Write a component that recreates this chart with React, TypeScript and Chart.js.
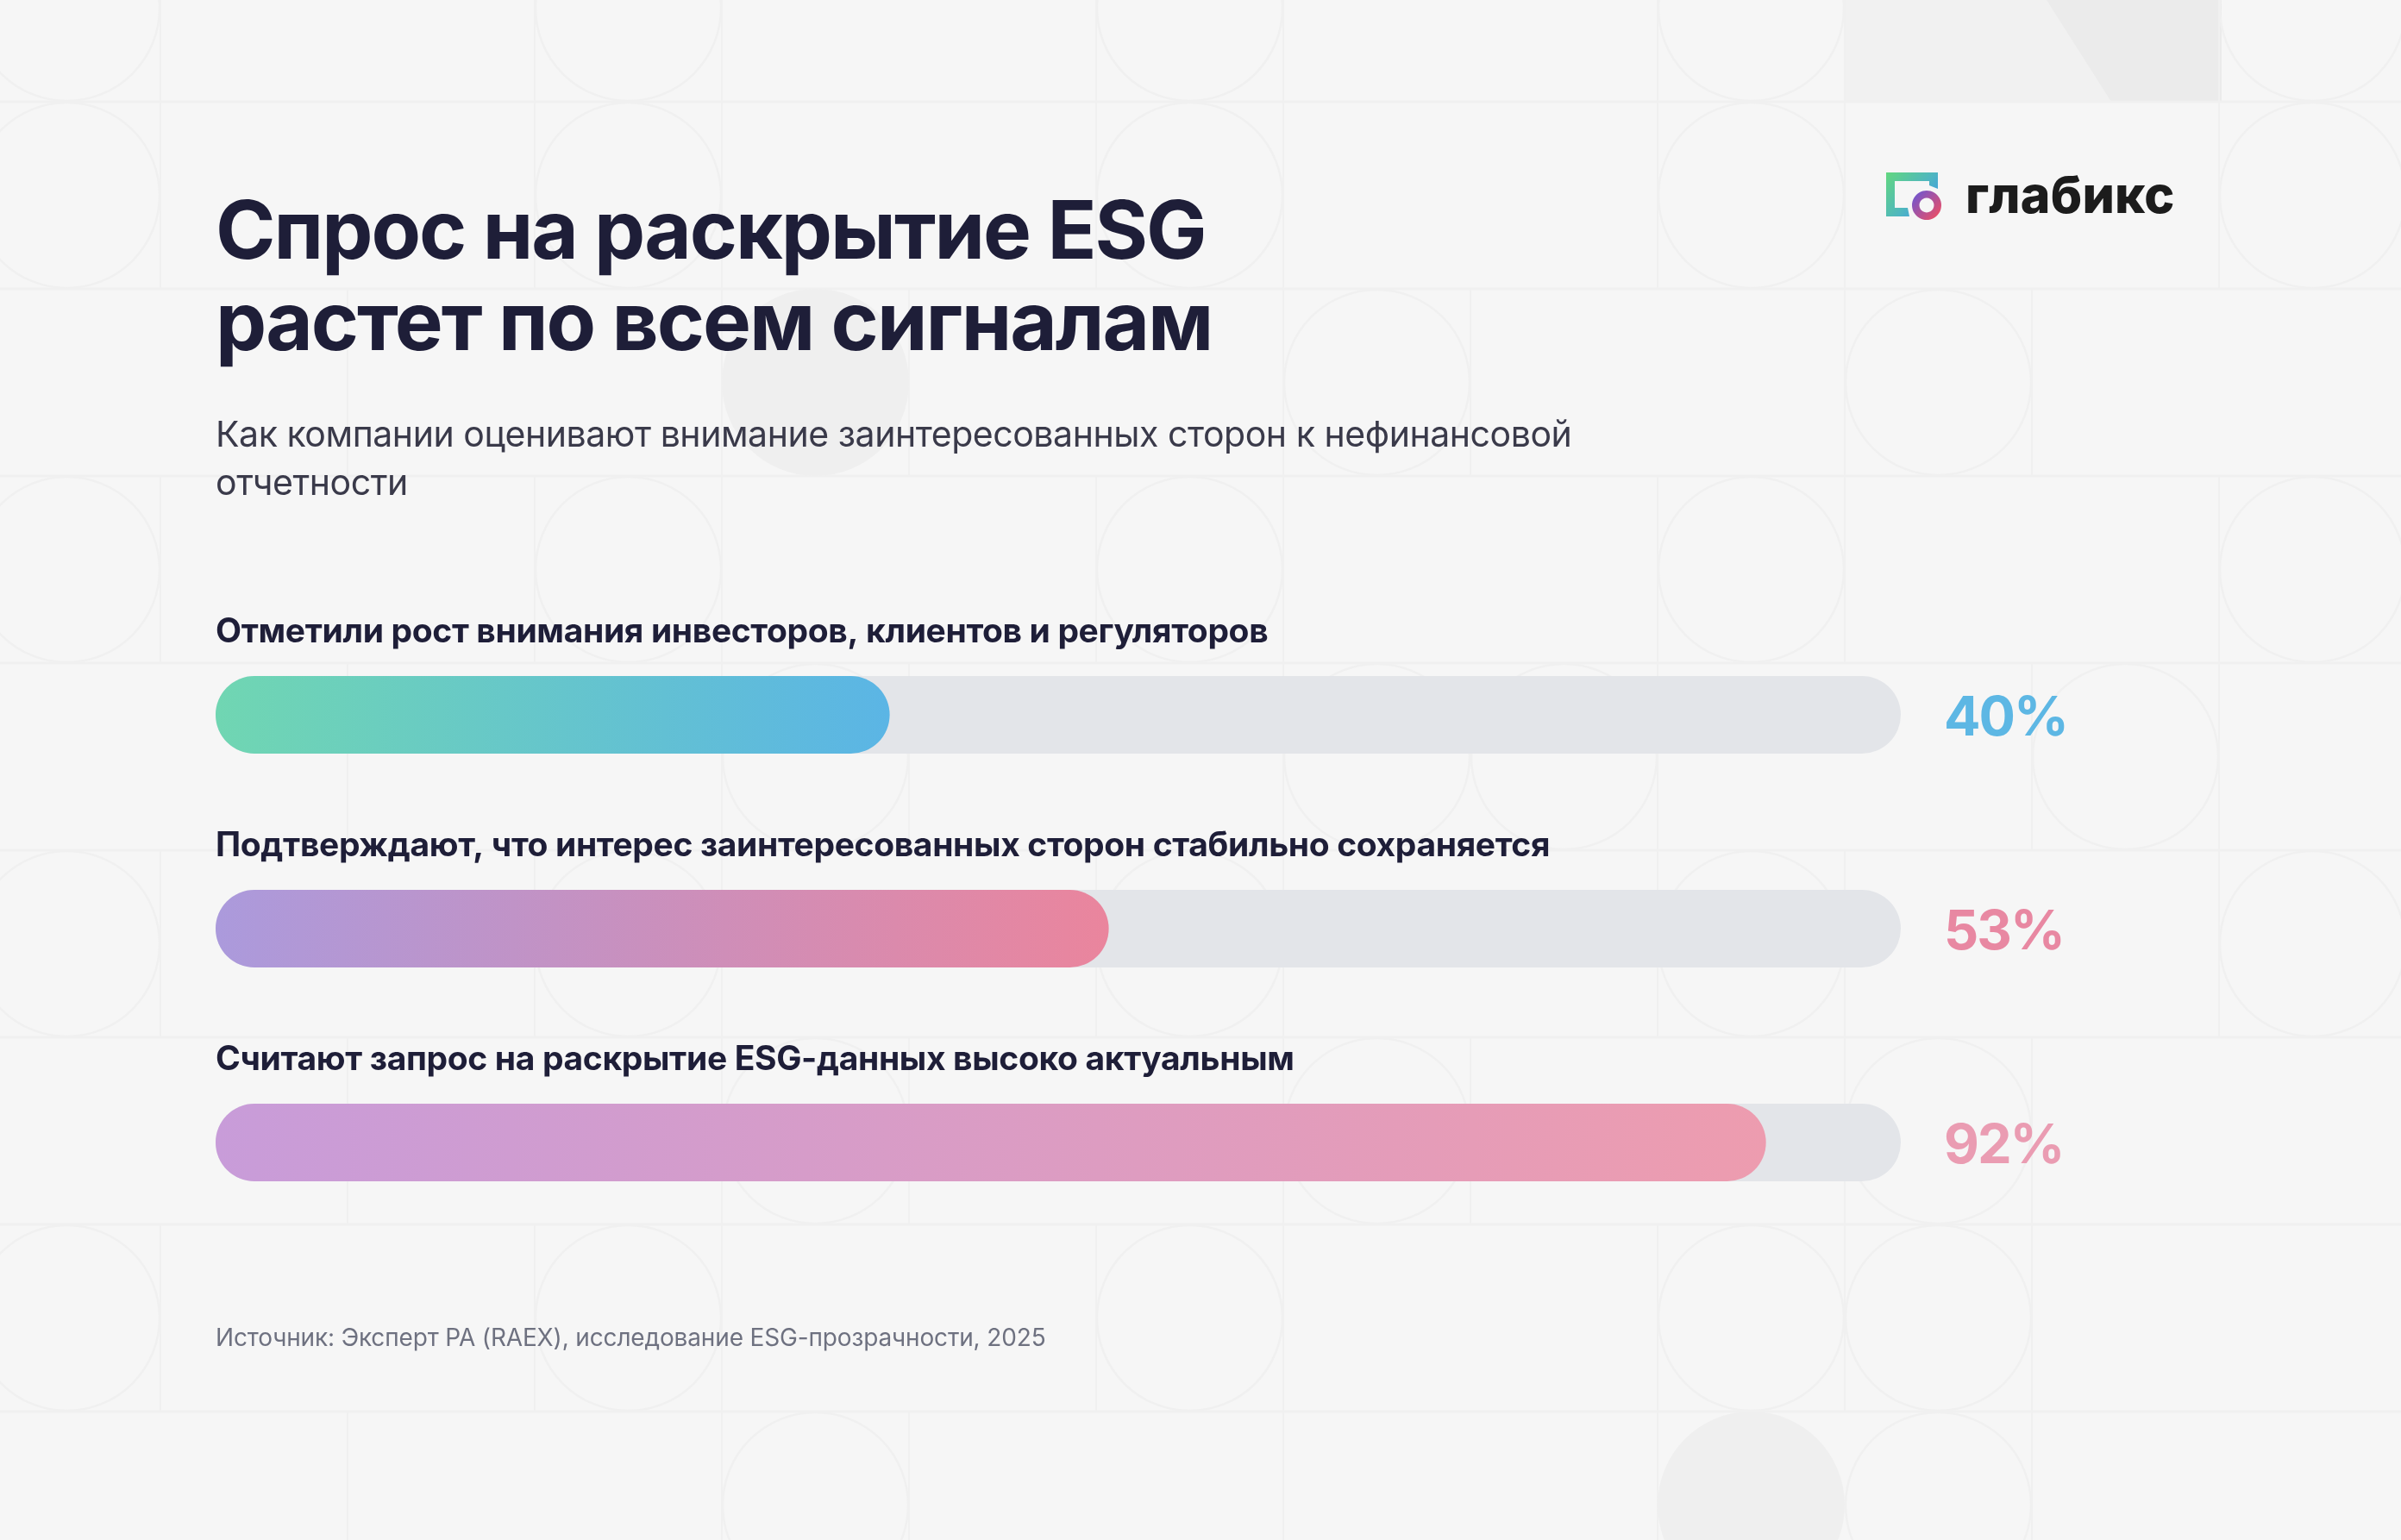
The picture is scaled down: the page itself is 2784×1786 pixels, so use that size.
import React, { useEffect, useRef } from "react";
import { Chart, registerables } from "chart.js";

Chart.register(...registerables);

const categories = [
  "Отметили рост внимания инвесторов, клиентов и регуляторов",
  "Подтверждают, что интерес заинтересованных сторон стабильно сохраняется",
  "Считают запрос на раскрытие ESG-данных высоко актуальным",
];
const values = [40, 53, 92];
const trackValues = [100, 100, 100];
const valueLabels = ["40%", "53%", "92%"];
const valueColors = ["#5db7e4", "#e888a2", "#ea9cb2"];
const gradientStarts = ["#70d6b2", "#ab9adc", "#c89cd9"];
const gradientEnds = ["#5bb5e5", "#ea859d", "#ed9caf"];

const titleLines = ["Спрос на раскрытие ESG", "растет по всем сигналам"];
const subtitleLines = [
  "Как компании оценивают внимание заинтересованных сторон к нефинансовой",
  "отчетности",
];
const sourceText = "Источник: Эксперт РА (RAEX), исследование ESG-прозрачности, 2025";
const logoText = "глабикс";

const W = 2784;
const H = 1786;
const FONT = "Inter, 'Noto Sans', sans-serif";
const BG = "#f6f6f6";
const LINE = "#f0f0f0";

// decorative background tiles: circles by [column, row]; vertical rules by row
const CELL = 217;
const X0 = -31;
const Y0 = -99;
const rowCircles = [
  [0, 3, 6, 9, 12],
  [0, 3, 6, 9, 12],
  [7, 10],
  [0, 3, 6, 9, 12],
  [4, 7, 8, 11],
  [0, 3, 6, 9, 12],
  [4, 7, 10],
  [0, 3, 6, 9, 10],
  [4, 10],
];
const rowRules = [
  [1, 3, 4, 6, 7, 9, 10, 12],
  [1, 3, 4, 6, 7, 9, 10, 12],
  [2, 4, 5, 7, 8, 10, 11],
  [1, 3, 4, 6, 7, 9, 10, 12],
  [2, 4, 5, 7, 9, 11, 12],
  [1, 3, 4, 6, 7, 9, 10, 12],
  [2, 4, 5, 7, 8, 10, 11],
  [1, 3, 4, 6, 7, 9, 10, 11],
  [2, 4, 5, 7, 9, 11],
];
const filledCircles = [
  [4, 2],
  [9, 8],
];

function Background() {
  const rowsY = rowCircles.map((_, r) => Y0 + CELL * r);
  return (
    <svg width={W} height={H} style={{ position: "absolute", left: 0, top: 0 }}>
      <rect width={W} height={H} fill={BG} />
      <rect x={2139} y={0} width={437} height={118} fill="#f1f1f1" />
      <polygon points="2373,0 2576,0 2576,118 2448,118" fill="#ebebeb" />
      {rowsY.slice(1).map((y) => (
        <rect key={y} x={0} y={y - 1.5} width={W} height={3} fill={LINE} />
      ))}
      {rowRules.map((cols, r) =>
        cols.map((c) => (
          <rect key={`${r}-${c}`} x={X0 + CELL * c - 1} y={rowsY[r]} width={2} height={CELL} fill={LINE} />
        ))
      )}
      {filledCircles.map(([c, r]) => (
        <circle key={`f${c}-${r}`} cx={X0 + CELL * c + CELL / 2} cy={Y0 + CELL * r + CELL / 2} r={CELL / 2} fill="#efefef" />
      ))}
      {rowCircles.map((cols, r) =>
        cols.map((c) => (
          <circle
            key={`c${r}-${c}`}
            cx={X0 + CELL * c + CELL / 2}
            cy={Y0 + CELL * r + CELL / 2}
            r={CELL / 2 - 1}
            fill="none"
            stroke={LINE}
            strokeWidth={2.5}
          />
        ))
      )}
    </svg>
  );
}

function Logo() {
  return (
    <svg width={360} height={100} viewBox="2180 180 360 100" style={{ position: "absolute", left: 2180, top: 180 }}>
      <defs>
        <linearGradient id="frameG" gradientUnits="userSpaceOnUse" x1="2187" y1="200" x2="2247" y2="251">
          <stop offset="0" stopColor="#62d77f" />
          <stop offset="0.55" stopColor="#4fb6c0" />
          <stop offset="1" stopColor="#3a8ff5" />
        </linearGradient>
        <linearGradient id="donutG" gradientUnits="userSpaceOnUse" x1="2220" y1="226" x2="2248" y2="252">
          <stop offset="0" stopColor="#7456cc" />
          <stop offset="1" stopColor="#ec4f66" />
        </linearGradient>
      </defs>
      <path
        d="M2187 200 H2247 V219 L2237 215 V210 H2197 V241 H2212 L2214 251 H2187 Z"
        fill="url(#frameG)"
      />
      <path
        fillRule="evenodd"
        d="M2234 221 a17 17 0 1 0 0.01 0 Z M2234 229.5 a8.5 8.5 0 1 1 -0.01 0 Z"
        fill="url(#donutG)"
      />
      <text x={2279} y={247} fontFamily={FONT} fontWeight={800} fontSize={59} fill="#1c1c1c" letterSpacing={0.2}>
        {logoText}
      </text>
    </svg>
  );
}

const textBase: React.CSSProperties = { position: "absolute", left: 250, whiteSpace: "nowrap", fontFamily: FONT };

export default function App() {
  const ref = useRef<HTMLCanvasElement>(null);

  useEffect(() => {
    const canvas = ref.current;
    if (!canvas) return;

    const gradientFill = (ctx: any) => {
      const chart = ctx.chart;
      const xs = chart.scales.x;
      const i = ctx.dataIndex;
      if (!xs || i === undefined) return gradientStarts[0];
      const x0 = xs.getPixelForValue(0);
      const x1 = xs.getPixelForValue(values[i]);
      if (!Number.isFinite(x0) || !Number.isFinite(x1)) return gradientStarts[i];
      const g = chart.ctx.createLinearGradient(x0, 0, x1, 0);
      g.addColorStop(0, gradientStarts[i]);
      g.addColorStop(1, gradientEnds[i]);
      return g;
    };

    const labelPlugin = {
      id: "rowLabels",
      afterDatasetsDraw(chart: any) {
        const c = chart.ctx;
        const ys = chart.scales.y;
        const left = chart.chartArea.left;
        const right = chart.chartArea.right;
        c.save();
        c.textBaseline = "alphabetic";
        c.textAlign = "left";
        categories.forEach((label, i) => {
          const cy = ys.getPixelForValue(i);
          c.font = `700 39px ${FONT}`;
          c.letterSpacing = "-0.35px";
          c.fillStyle = "#1e1e38";
          c.fillText(label, left, cy - 84);
          c.font = `700 63px ${FONT}`;
          c.letterSpacing = "-2px";
          c.fillStyle = valueColors[i];
          c.fillText(valueLabels[i], right + 50, cy + 24);
        });
        c.restore();
      },
    };

    const chart = new Chart(canvas, {
      type: "bar",
      data: {
        labels: categories,
        datasets: [
          {
            label: "Доля",
            data: values,
            backgroundColor: gradientFill,
            borderRadius: 45,
            borderSkipped: false,
            barThickness: 90,
            inflateAmount: 0,
            grouped: false,
            order: 1,
          } as any,
          {
            label: "Шкала",
            data: trackValues,
            backgroundColor: "#e3e5e9",
            borderRadius: 45,
            borderSkipped: false,
            barThickness: 90,
            inflateAmount: 0,
            grouped: false,
            order: 2,
          } as any,
        ],
      },
      options: {
        indexAxis: "y",
        animation: false,
        responsive: false,
        devicePixelRatio: 1,
        layout: { padding: { left: 250, right: W - 2204, top: 705, bottom: H - 1449 } },
        scales: {
          x: { display: false, min: 0, max: 100 },
          y: { display: false },
        },
        plugins: { legend: { display: false }, title: { display: false }, tooltip: { enabled: false } },
      },
      plugins: [labelPlugin],
    });
    return () => chart.destroy();
  }, []);

  return (
    <div style={{ position: "absolute", left: 0, top: 0, width: W, height: H, overflow: "hidden", background: BG }}>
      <Background />
      <canvas ref={ref} width={W} height={H} style={{ position: "absolute", left: 0, top: 0, width: W, height: H }} />
      <Logo />
      {titleLines.map((line, i) => (
        <div
          key={line}
          style={{
            ...textBase,
            top: 300 + i * 106 - 90,
            lineHeight: "112px",
            fontSize: 94,
            fontWeight: 700,
            letterSpacing: -2,
            color: "#1e1e38",
          }}
        >
          {line}
        </div>
      ))}
      {subtitleLines.map((line, i) => (
        <div
          key={line}
          style={{
            ...textBase,
            top: 514.5 + i * 56.5 - 40,
            lineHeight: "56px",
            fontSize: 41,
            letterSpacing: -0.45,
            color: "#3a3a4a",
          }}
        >
          {line}
        </div>
      ))}
      <div style={{ ...textBase, top: 1560 - 29, lineHeight: "40px", fontSize: 28, letterSpacing: -0.15, color: "#6e7180" }}>{sourceText}</div>
    </div>
  );
}
